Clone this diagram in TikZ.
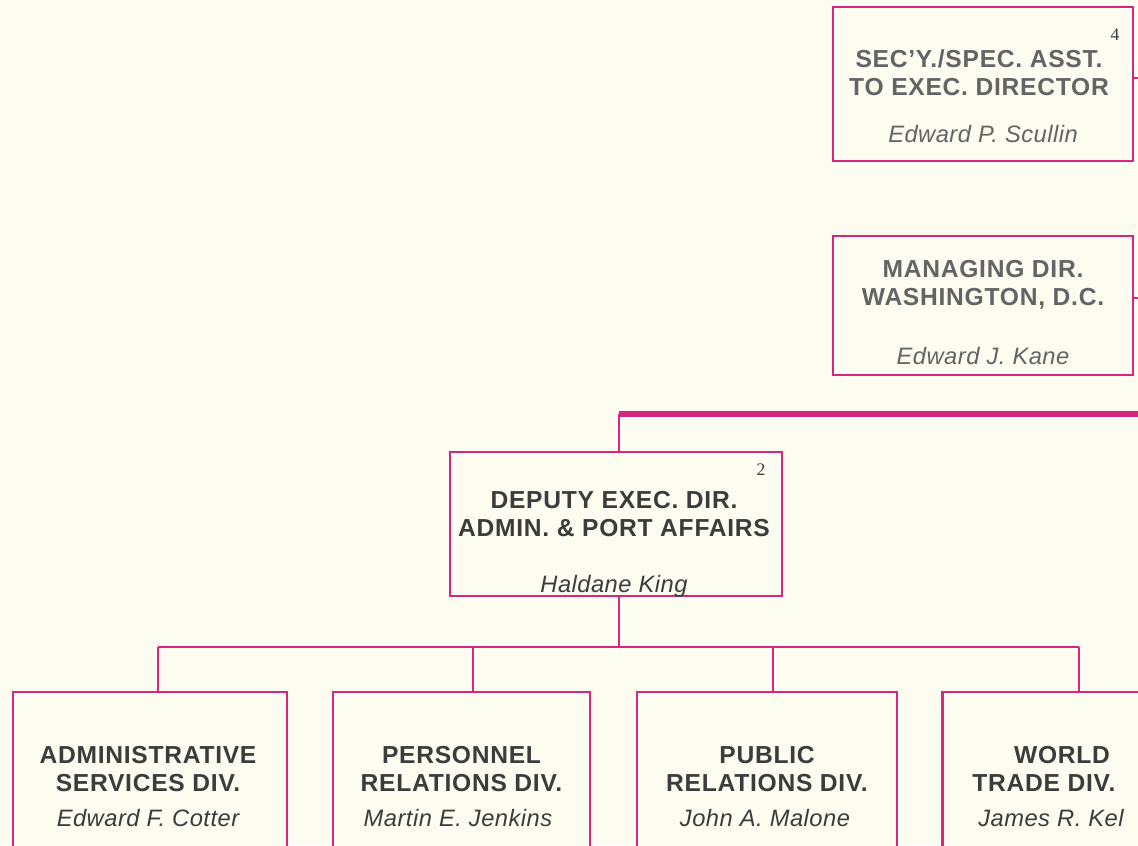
\documentclass[tikz,border=0pt]{standalone}
\usepackage{fontspec}
\setmainfont{Liberation Sans}
\newfontfamily\notefont{Liberation Serif}
\definecolor{chartpink}{RGB}{214,38,128}
\definecolor{paper}{RGB}{252,252,241}
\definecolor{inkgray}{RGB}{60,60,60}
\definecolor{fadegray}{RGB}{100,100,100}
\begin{document}
\begin{tikzpicture}[x=0.02cm,y=-0.02cm,
  office/.style={draw=chartpink,line width=1.5pt,fill=paper,inner sep=0pt},
  title/.style={text=inkgray,font=\fontsize{14}{16}\selectfont\bfseries\addfontfeature{LetterSpace=3},align=center,inner sep=0pt},
  person/.style={text=inkgray,font=\fontsize{13.5}{16}\selectfont\itshape\addfontfeature{LetterSpace=2},inner sep=0pt,anchor=base},
  note/.style={text=inkgray,font=\notefont\fontsize{10}{12}\selectfont,inner sep=0pt},
  wire/.style={draw=chartpink,line width=1.5pt},
  mainwire/.style={draw=chartpink,line width=3.2pt}]
\useasboundingbox (0,0) rectangle (1138,845);
\fill [paper] (0,0) rectangle (1138,845);
\clip (0,0) rectangle (1138,845);

% top offices
\node [office,minimum width=6cm,minimum height=3.08cm] (secy) at (983,84) {};
\node [title,text=fadegray] (secyT) at (979,73) {SEC'Y./SPEC. ASST.\\TO EXEC. DIRECTOR};
\node [person,text=fadegray] (secyP) at (983,142) {Edward P. Scullin};
\node [note] (n4) at (1115,35) {4};
\node [office,minimum width=6cm,minimum height=2.78cm] (wash) at (983,305.5) {};
\node [title,text=fadegray] (washT) at (983,285) {MANAGING DIR.\\WASHINGTON, D.C.};
\node [person,text=fadegray] (washP) at (983,364) {Edward J. Kane};
\coordinate (secyR) at (1140,78);
\coordinate (washR) at (1140,298);
\draw [wire] (secy.east |- secyR) -- (secyR);
\draw [wire] (wash.east |- washR) -- (washR);

% deputy
\node [office,minimum width=6.64cm,minimum height=2.88cm] (dep) at (616,524) {};
\node [title] (depT) at (614,514) {DEPUTY EXEC. DIR.\\ADMIN. \& PORT AFFAIRS};
\node [person] (depP) at (614,592) {Haldane King};
\node [note] (n2) at (761,470) {2};
\coordinate (busL) at (619,414);
\coordinate (busR) at (1140,414);
\draw [mainwire] (busL) -- (busR);
\draw [wire] (busL) -- (busL |- dep.north);

% divisions
\node [office,minimum width=5.48cm,minimum height=3.6cm] (adm) at (150,782) {};
\node [office,minimum width=5.14cm,minimum height=3.6cm] (pers) at (461.5,782) {};
\node [office,minimum width=5.2cm,minimum height=3.6cm] (pub) at (767,782) {};
\node [office,minimum width=5.1cm,minimum height=3.6cm] (wtd) at (1070,782) {};
\node [title] (admT) at (148,769) {ADMINISTRATIVE\\SERVICES DIV.};
\node [person] (admP) at (148,826) {Edward F. Cotter};
\node [title] (persT) at (461.5,769) {PERSONNEL\\RELATIONS DIV.};
\node [person] (persP) at (458,826) {Martin E. Jenkins};
\node [title] (pubT) at (767,769) {PUBLIC\\RELATIONS DIV.};
\node [person] (pubP) at (765,826) {John A. Malone};
\node [title] (wtdT) at (1062,755) {WORLD};
\node [title,anchor=west] (wtdT2) at (972,783) {TRADE DIV.};
\node [person,anchor=base west] (wtdP) at (978,826) {James R. Kel};

% branch lines
\coordinate (mid) at (619,647);
\coordinate (tA) at (158,647);
\coordinate (tB) at (473,647);
\coordinate (tC) at (773,647);
\coordinate (tD) at (1079,647);
\draw [wire] (dep.south -| mid) -- (mid);
\draw [wire] (tA) -- (tD);
\draw [wire] (tA) -- (tA |- adm.north);
\draw [wire] (tB) -- (tB |- pers.north);
\draw [wire] (tC) -- (tC |- pub.north);
\draw [wire] (tD) -- (tD |- wtd.north);
\end{tikzpicture}
\end{document}
